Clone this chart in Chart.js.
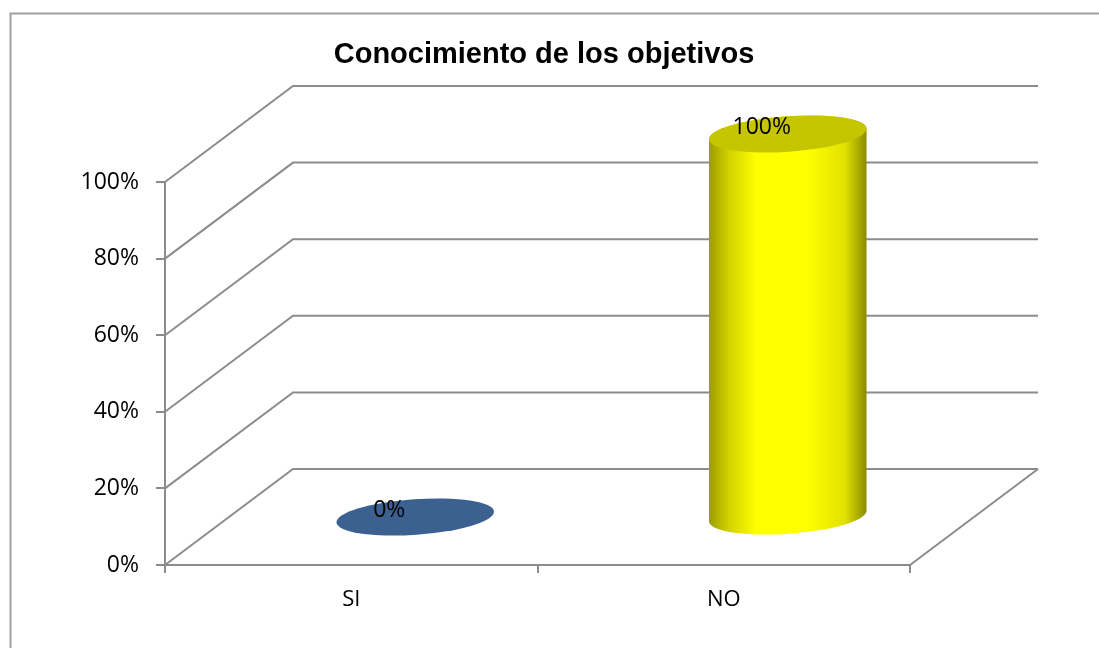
<!DOCTYPE html>
<html><head><meta charset="utf-8">
<script src="https://cdn.jsdelivr.net/npm/chart.js@4/dist/chart.umd.min.js"></script>
<style>html,body{margin:0;padding:0;background:#fff}canvas{display:block}</style>
</head><body>
<canvas id="c" width="1099" height="648"></canvas>
<script>
const chartTitle = 'Conocimiento de los objetivos';
const categories = ['SI', 'NO'];
const values = [0, 1];            // fractions (0% , 100%)
const yTickValues = [0, 0.2, 0.4, 0.6, 0.8, 1];

const pct = v => Math.round(v * 100) + '%';

// styles
const GRID = '#8c8c8c';
const DX = 128, DY = 96;          // 3D depth offset
const LABEL_FONT = '"Open Sans", "Liberation Sans", sans-serif';
const cylStyles = [
  { side: [[0, '#2c4a70'], [0.3, '#4a72a4'], [0.6, '#3c6190'], [1, '#28446a']], top: '#3c6190' },
  { side: [[0, '#9c9c00'], [0.12, '#d0d000'], [0.3, '#ffff00'], [0.62, '#ffff00'], [0.86, '#e2e200'], [1, '#8a8a00']], top: '#c6c600' }
];

const threeD = {
  id: 'threeD',
  beforeDraw(chart) {
    const { ctx } = chart;
    ctx.save();
    ctx.strokeStyle = '#a0a0a0';
    ctx.lineWidth = 2;
    ctx.beginPath();
    ctx.moveTo(10.5, 700); ctx.lineTo(10.5, 13.5); ctx.lineTo(1200, 13.5);
    ctx.stroke();
    ctx.fillStyle = '#000';
    ctx.font = 'bold 29px "Liberation Sans", Arial, sans-serif';
    ctx.textAlign = 'center';
    ctx.textBaseline = 'alphabetic';
    ctx.fillText(chartTitle, 544, 63);
    ctx.restore();
  },
  beforeDatasetsDraw(chart) {
    const { ctx, chartArea: a, scales: { y } } = chart;
    ctx.save();
    ctx.strokeStyle = GRID;
    ctx.lineWidth = 2;
    y.ticks.forEach(t => {
      const py = y.getPixelForValue(t.value);
      ctx.beginPath();
      ctx.moveTo(a.left, py);
      ctx.lineTo(a.left + DX, py - DY);
      ctx.lineTo(a.right + DX, py - DY);
      ctx.stroke();
    });
    ctx.beginPath();
    ctx.moveTo(a.right, a.bottom);
    ctx.lineTo(a.right + DX, a.bottom - DY);
    ctx.stroke();
    ctx.restore();
  },
  afterDatasetsDraw(chart) {
    const { ctx } = chart;
    const meta = chart.getDatasetMeta(0);
    ctx.save();
    meta.data.forEach((bar, i) => {
      const cx = bar.x + DX / 2;
      const by = bar.base - DY / 2;
      const ty = bar.y - DY / 2;
      const rx = bar.width / 2, ry = rx * 0.225, rot = -0.07;
      const st = cylStyles[i];
      if (by - ty > 0.5) {
        const g = ctx.createLinearGradient(cx - rx, 0, cx + rx, 0);
        st.side.forEach(([o, c]) => g.addColorStop(o, c));
        ctx.beginPath();
        ctx.ellipse(cx, ty, rx, ry, rot, 0, Math.PI, true);
        ctx.ellipse(cx, by, rx, ry, rot, Math.PI, 0, true);
        ctx.closePath();
        ctx.fillStyle = g;
        ctx.fill();
      }
      ctx.beginPath();
      ctx.ellipse(cx, ty, rx, ry, rot, 0, Math.PI * 2);
      ctx.fillStyle = st.top;
      ctx.fill();
      ctx.fillStyle = '#000';
      ctx.font = '23px ' + LABEL_FONT;
      ctx.textAlign = 'center';
      ctx.textBaseline = 'middle';
      ctx.fillText(pct(values[i]), cx - 26, ty - 7);
    });
    ctx.restore();
  }
};

new Chart(document.getElementById('c'), {
  type: 'bar',
  data: {
    labels: categories,
    datasets: [{
      data: values,
      backgroundColor: 'rgba(0,0,0,0)',
      borderWidth: 0,
      categoryPercentage: 1,
      barPercentage: 0.424
    }]
  },
  options: {
    responsive: false,
    animation: false,
    devicePixelRatio: 1,
    layout: { padding: { left: 0, top: 182, right: 189, bottom: 0 } },
    plugins: { legend: { display: false }, tooltip: { enabled: false } },
    scales: {
      x: {
        offset: true,
        grid: { offset: true, drawOnChartArea: false, drawTicks: true, tickLength: 8, color: GRID, lineWidth: 2 },
        border: { display: true, color: GRID, width: 2 },
        ticks: { color: '#000', font: { family: LABEL_FONT, size: 22 }, padding: 14, maxRotation: 0 },
        afterFit: s => { s.height = 83; }
      },
      y: {
        min: 0, max: 1,
        afterBuildTicks: s => { s.ticks = yTickValues.map(v => ({ value: v })); },
        grid: { drawOnChartArea: false, drawTicks: true, tickLength: 9, color: GRID, lineWidth: 2 },
        border: { display: true, color: GRID, width: 2 },
        ticks: { color: '#000', font: { family: LABEL_FONT, size: 23 }, padding: 17, callback: v => pct(v) },
        afterFit: s => { s.width = 165; }
      }
    }
  },
  plugins: [threeD]
});
</script>
</body></html>
